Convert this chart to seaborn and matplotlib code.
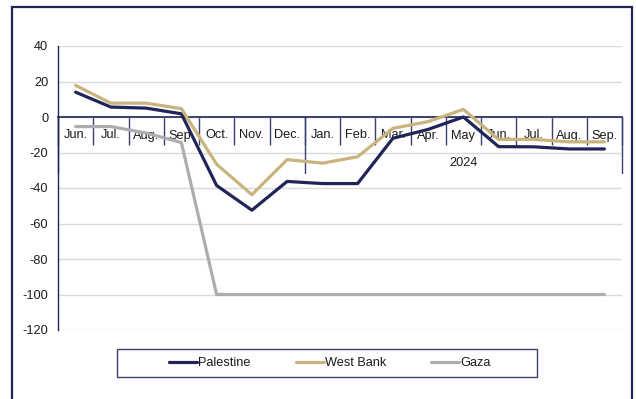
import matplotlib
matplotlib.use("Agg")
import matplotlib.pyplot as plt
from matplotlib.patches import Rectangle
from matplotlib.ticker import FixedLocator
import seaborn as sns
import pandas as pd
import numpy as np

months = ["Jun.", "Jul.", "Aug.", "Sep.", "Oct.", "Nov.", "Dec.", "Jan.", "Feb.",
          "Mar.", "Apr.", "May", "Jun.", "Jul.", "Aug.", "Sep."]
year_label = "2024"
year_start, year_end = 7, 15
palestine = [14, 5.6, 5, 1.8, -38.6, -52.5, -36.3, -37.5, -37.5, -12, -7, 0, -16.7, -16.8, -18, -18]
west_bank = [17.8, 7.8, 7.8, 4.7, -26.6, -43.8, -24, -26, -22.4, -6.4, -2.6, 4.3, -12.6, -12.6, -14, -14]
gaza = [-5.4, -5.4, -9, -14.4, -100, -100, -100, -100, -100, -100, -100, -100, -100, -100, -100, -100]
series_names = ["Palestine", "West Bank", "Gaza"]
colors = {"Palestine": "#1F2459", "West Bank": "#C9B47E", "Gaza": "#ADADB1"}
yticks = [40, 20, 0, -20, -40, -60, -80, -100, -120]

rows = []
for name, vals in zip(series_names, [palestine, west_bank, gaza]):
    for i, v in enumerate(vals):
        rows.append({"idx": i, "value": v, "series": name})
df = pd.DataFrame(rows)

sns.set_theme(style="white")
plt.rcParams["font.family"] = ["Liberation Sans", "DejaVu Sans"]
navy = "#1F2459"
tick_navy = "#3A3F70"
txt = "#1A1A1A"

fig = plt.figure(figsize=(6.36, 3.99), dpi=100)
ax = fig.add_axes([58/636, 1-330/399, (622-58)/636, (330-46)/399])

sns.lineplot(data=df, x="idx", y="value", hue="series", hue_order=series_names,
             palette=colors, linewidth=2.3, ax=ax, legend=True, zorder=3)

ax.set_xlim(-0.5, len(months) - 0.5)
ax.set_ylim(-120, 40)
ax.set_yticks(yticks)
ax.set_yticklabels([str(t) for t in yticks], fontsize=9.2, color=txt)
ax.tick_params(axis="y", length=0, pad=7)
ax.yaxis.grid(True, color="#DADADA", linewidth=1)
ax.xaxis.grid(False)
ax.set_xlabel("")
ax.set_ylabel("")

for s in ["top", "right"]:
    ax.spines[s].set_visible(False)
ax.spines["left"].set_color(navy)
ax.spines["left"].set_linewidth(1)
ax.spines["bottom"].set_position(("data", 0))
ax.spines["bottom"].set_color(navy)
ax.spines["bottom"].set_linewidth(1.2)
ax.spines["bottom"].set_zorder(2)

ax.set_xticks(range(len(months)))
ax.set_xticklabels(months, fontsize=9.2, color=txt)
ax.tick_params(axis="x", which="major", bottom=True, length=0, pad=9)
ax.xaxis.set_minor_locator(FixedLocator(np.arange(-0.5, len(months), 1.0)))
ax.tick_params(axis="x", which="minor", bottom=True, length=20, width=1,
               color=tick_navy, direction="out")

# year group separators and label
for xb in [-0.5, year_start - 0.5, year_end + 0.5]:
    ax.plot([xb, xb], [0, -31.5], color=tick_navy, linewidth=1, clip_on=False, zorder=2)
ax.text((year_start + year_end) / 2, -26, year_label, ha="center", va="center",
        fontsize=9.2, color=txt)

# legend
handles, labels = ax.get_legend_handles_labels()
ax.get_legend().remove()
fig.patches.append(Rectangle((117/636, 1-377/399), 420/636, 28/399,
                             transform=fig.transFigure, fill=False,
                             edgecolor=tick_navy, linewidth=1))
leg = fig.legend(handles, labels, loc="center", bbox_to_anchor=(330/636, 1-363/399),
                 ncol=3, frameon=False, fontsize=9.2, handlelength=2.2,
                 handletextpad=0.1, columnspacing=3.5)
for t in leg.get_texts():
    t.set_color(txt)

# outer frame
fig.patches.append(Rectangle((12/636, -0.1), 620/636, 1.1 - 7/399,
                             transform=fig.transFigure, fill=False,
                             edgecolor=navy, linewidth=1.6))

fig.savefig("out.png", dpi=100)
